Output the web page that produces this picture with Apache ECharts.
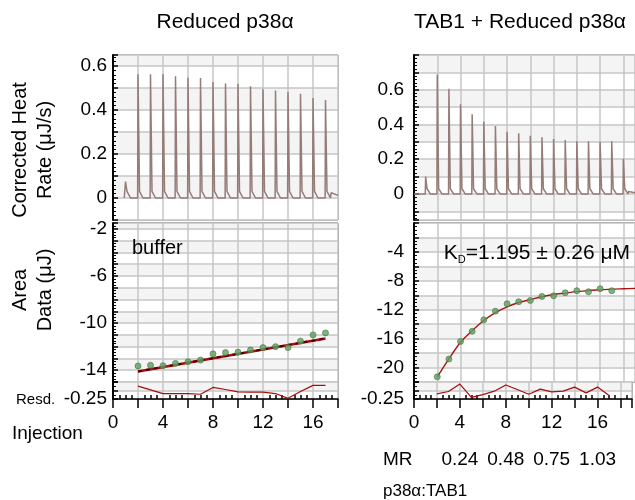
<!DOCTYPE html>
<html>
<head>
<meta charset="utf-8">
<script src="https://cdn.jsdelivr.net/npm/echarts@6/dist/echarts.min.js"></script>
<style>
html, body { margin: 0; padding: 0; background: #fff; }
#main { width: 635px; height: 500px; }
</style>
</head>
<body>
<div id="main"></div>
<script>
// raw thermogram peaks (injection number -> peak height, uJ/s)
var bufInj = [1, 2, 3, 4, 5, 6, 7, 8, 9, 10, 11, 12, 13, 14, 15, 16, 17];
var bufPeak = [0.075, 0.562, 0.562, 0.562, 0.553, 0.547, 0.545, 0.527, 0.521, 0.518, 0.508, 0.494, 0.489, 0.482, 0.474, 0.455, 0.445];
var tabInj = [1, 2, 3, 4, 5, 6, 7, 8, 9, 10, 11, 12, 13, 14, 15, 16, 17, 18];
var tabPeak = [0.10, 0.688, 0.605, 0.517, 0.459, 0.416, 0.391, 0.358, 0.349, 0.335, 0.326, 0.316, 0.310, 0.304, 0.304, 0.300, 0.304, 0.203];

// integrated areas (uJ)
var areaInj = [2, 3, 4, 5, 6, 7, 8, 9, 10, 11, 12, 13, 14, 15, 16, 17];
var bufArea = [-13.64, -13.58, -13.61, -13.42, -13.28, -13.14, -12.61, -12.5, -12.47, -12.28, -12.08, -12.0, -12.08, -11.53, -11.0, -10.83];
var bufResd = [0.13, 0.02, -0.09, -0.09, -0.09, -0.11, 0.09, 0.03, -0.04, -0.05, -0.05, -0.09, -0.23, -0.03, 0.15, 0.15];
var bufFitX = [2, 17];
var bufFitY = [-14.1, -11.3];

var tabArea = [-21.29, -18.83, -16.38, -14.99, -13.40, -12.2, -11.18, -10.9, -10.72, -10.16, -10.07, -9.65, -9.37, -9.51, -9.09, -9.37];
var tabResd = [-0.10, -0.03, 0.19, -0.20, -0.12, -0.02, 0.16, 0.03, -0.11, 0.04, -0.04, -0.02, 0.10, -0.07, 0.10, -0.15];
var tabFitX = [2, 3, 4, 5, 6, 7, 8, 9, 10, 11, 12, 13, 14, 15, 16, 17, 18, 19];
var tabFitY = [-21.3, -18.8, -16.5, -14.9, -13.5, -12.4, -11.6, -11.0, -10.6, -10.2, -9.9, -9.7, -9.5, -9.35, -9.25, -9.15, -9.1, -9.05];

// molar ratio tick labels under the right panel
var mrTicks = [4, 8, 12, 16];
var mrLabels = ['0.24', '0.48', '0.75', '1.03'];

var FONT = 'Liberation Sans';

function zip(xs, ys) {
    return xs.map(function (x, i) { return [x, ys[i]]; });
}

// thermogram trace: baseline with a sharp spike at each injection
function trace(inj, peak, start, end, tail) {
    var pts = [[start, 0]];
    inj.forEach(function (x, i) {
        pts.push([x - 0.03, 0], [x, peak[i]], [x + 0.12, 0.03], [x + 0.4, 0]);
    });
    pts.push([inj[inj.length - 1] + 0.45, tail], [end, tail * 0.5]);
    return pts;
}

function grid(left, top, width, height, border) {
    return {
        left: left, top: top, width: width, height: height,
        show: true, backgroundColor: '#fff', borderColor: border, borderWidth: 1
    };
}

function xAx(gi, max, bottom) {
    return {
        gridIndex: gi, type: 'value', min: 0, max: max, interval: 2,
        axisLine: { show: bottom, onZero: false, lineStyle: { color: '#000', width: 1.5 } },
        axisTick: { show: bottom, length: 9, lineStyle: { color: '#000', width: 1.5 } },
        minorTick: { show: bottom, splitNumber: 4, length: -4, lineStyle: { color: '#000', width: 1.5 } },
        axisLabel: {
            show: bottom, margin: 14, fontSize: 19, fontFamily: FONT, color: '#000',
            formatter: function (v) { return v % 4 === 0 ? String(v) : ''; }
        },
        splitLine: { show: true, lineStyle: { color: '#c6c6c6', width: 1.5 } }
    };
}

function yAx(gi, min, max, opts) {
    return {
        gridIndex: gi, type: 'value', min: min, max: max,
        splitNumber: opts.split, interval: opts.interval,
        axisLine: { show: true, lineStyle: { color: '#000', width: 2 } },
        axisTick: { show: true, inside: true, length: 5, lineStyle: { color: '#000', width: 1.5 } },
        minorTick: { show: true, splitNumber: opts.minor, length: 3, lineStyle: { color: '#000', width: 1 } },
        axisLabel: {
            margin: opts.margin, fontSize: 19, fontFamily: FONT, color: '#000',
            formatter: opts.fmt
        },
        splitLine: { show: true, lineStyle: { color: '#c6c6c6', width: 1.5 } },
        splitArea: { show: true, areaStyle: { color: ['#ffffff', '#f4f4f4'] } }
    };
}

function near(v, step) {
    var r = v / step;
    return Math.abs(r - Math.round(r)) < 1e-6;
}

var myChart = echarts.init(document.getElementById('main'));

var option = {
    animation: false,
    textStyle: { fontFamily: FONT },
    grid: [
        grid(113, 55, 225, 165, '#555'),
        grid(113, 223, 225, 159, '#000'),
        grid(113, 382, 225, 17, '#000'),
        grid(414, 55, 222, 165, '#555'),
        grid(414, 223, 222, 159, '#000'),
        grid(414, 382, 222, 17, '#000')
    ],
    xAxis: [
        xAx(0, 18, false),
        xAx(1, 18, false),
        xAx(2, 18, true),
        xAx(3, 19, false),
        xAx(4, 19, false),
        xAx(5, 19, true),
        {
            gridIndex: 5, type: 'value', min: 0, max: 19, interval: 4,
            position: 'bottom', offset: 37,
            axisLine: { show: false }, axisTick: { show: false },
            splitLine: { show: false },
            axisLabel: {
                margin: 14, fontSize: 19, fontFamily: FONT, color: '#000',
                formatter: function (v) {
                    var i = mrTicks.indexOf(v);
                    return i < 0 ? '' : mrLabels[i];
                }
            }
        }
    ],
    yAxis: [
        yAx(0, -0.1, 0.65, { split: 8, minor: 5, margin: 6,
            fmt: function (v) { return (near(v, 0.2) && v > -0.05 && v < 0.61) ? String(Math.round(v * 10) / 10) : ''; } }),
        yAx(1, -15, -1.5, { split: 13, minor: 4, margin: 6,
            fmt: function (v) { return (near(v + 2, 4) && v >= -14) ? String(v) : ''; } }),
        yAx(2, -0.25, 0.25, { interval: 0.25, minor: 2, margin: 6,
            fmt: function (v) { return v === -0.25 ? '-0.25' : ''; } }),
        yAx(3, -0.15, 0.8, { split: 9, minor: 5, margin: 10,
            fmt: function (v) { return (near(v, 0.2) && v > -0.05 && v < 0.61) ? String(Math.round(v * 10) / 10) : ''; } }),
        yAx(4, -22, 0, { split: 11, minor: 4, margin: 10,
            fmt: function (v) { return (near(v, 4) && v < 0 && v >= -20) ? String(v) : ''; } }),
        yAx(5, -0.25, 0.25, { interval: 0.25, minor: 2, margin: 10,
            fmt: function (v) { return v === -0.25 ? '-0.25' : ''; } })
    ],
    series: [
        {
            type: 'line', xAxisIndex: 0, yAxisIndex: 0, showSymbol: false, silent: true,
            data: trace(bufInj, bufPeak, 0.9, 18, 0.024),
            lineStyle: { color: '#957c77', width: 1.5 }
        },
        {
            type: 'line', xAxisIndex: 3, yAxisIndex: 3, showSymbol: false, silent: true,
            data: trace(tabInj, tabPeak, 0, 19, 0.014),
            lineStyle: { color: '#957c77', width: 1.5 }
        },
        {
            type: 'line', xAxisIndex: 1, yAxisIndex: 1, showSymbol: false, silent: true,
            data: zip(bufFitX, bufFitY),
            lineStyle: { color: '#a80c0c', width: 2.5 }, z: 3
        },
        {
            type: 'line', xAxisIndex: 1, yAxisIndex: 1, showSymbol: false, silent: true,
            data: zip(bufFitX, bufFitY),
            lineStyle: { color: '#500000', width: 2, type: [4, 4] }, z: 4
        },
        {
            type: 'scatter', xAxisIndex: 1, yAxisIndex: 1, symbolSize: 6, silent: true,
            data: zip(areaInj, bufArea),
            itemStyle: { color: '#5f9f5f', borderColor: '#3f7a3f', borderWidth: 0.8 }, z: 5
        },
        {
            type: 'line', xAxisIndex: 2, yAxisIndex: 2, showSymbol: false, silent: true,
            data: zip(areaInj, bufResd),
            lineStyle: { color: '#a80c0c', width: 1.2 }
        },
        {
            type: 'line', xAxisIndex: 4, yAxisIndex: 4, showSymbol: false, silent: true, smooth: 0.3,
            data: zip(tabFitX, tabFitY),
            lineStyle: { color: '#b01010', width: 1.4 }, z: 3
        },
        {
            type: 'scatter', xAxisIndex: 4, yAxisIndex: 4, symbolSize: 6, silent: true,
            data: zip(areaInj, tabArea),
            itemStyle: { color: '#5f9f5f', borderColor: '#3f7a3f', borderWidth: 0.8 }, z: 5
        },
        {
            type: 'line', xAxisIndex: 5, yAxisIndex: 5, showSymbol: false, silent: true,
            data: zip(areaInj, tabResd),
            lineStyle: { color: '#a80c0c', width: 1.2 }
        }
    ],
    graphic: [
        { type: 'text', x: 225, y: 22, style: { text: 'Reduced p38α', font: '21px ' + FONT, fill: '#000', textAlign: 'center', textVerticalAlign: 'middle', align: 'center', verticalAlign: 'middle' } },
        { type: 'text', x: 520, y: 22, style: { text: 'TAB1 + Reduced p38α', font: '21px ' + FONT, fill: '#000', textAlign: 'center', textVerticalAlign: 'middle', align: 'center', verticalAlign: 'middle' } },
        { type: 'text', x: 33, y: 150, rotation: Math.PI / 2, style: { text: 'Corrected Heat\nRate (μJ/s)', font: '20px ' + FONT, lineHeight: 25, fill: '#000', textAlign: 'center', textVerticalAlign: 'middle', align: 'center', verticalAlign: 'middle' } },
        { type: 'text', x: 33, y: 290, rotation: Math.PI / 2, style: { text: 'Area\nData (μJ)', font: '20px ' + FONT, lineHeight: 25, fill: '#000', textAlign: 'center', textVerticalAlign: 'middle', align: 'center', verticalAlign: 'middle' } },
        { type: 'text', x: 16, y: 400, style: { text: 'Resd.', font: '15px ' + FONT, fill: '#000', textVerticalAlign: 'middle', verticalAlign: 'middle' } },
        { type: 'text', x: 12, y: 434, style: { text: 'Injection', font: '19px ' + FONT, fill: '#000', textVerticalAlign: 'middle', verticalAlign: 'middle' } },
        { type: 'text', x: 383, y: 460, style: { text: 'MR', font: '19px ' + FONT, fill: '#000', textVerticalAlign: 'middle', verticalAlign: 'middle' } },
        { type: 'text', x: 383, y: 491, style: { text: 'p38α:TAB1', font: '17px ' + FONT, fill: '#000', textVerticalAlign: 'middle', verticalAlign: 'middle' } },
        { type: 'text', x: 132, y: 248, z: 10, style: { text: 'buffer', font: '20px ' + FONT, fill: '#000', textVerticalAlign: 'middle', verticalAlign: 'middle' } },
        {
            type: 'text', x: 630, y: 253, z: 10,
            style: {
                text: '{k|K}{d|D}{k|=1.195 ± 0.26 μM}',
                textAlign: 'right', align: 'right', textVerticalAlign: 'middle', verticalAlign: 'middle',
                rich: {
                    k: { fontSize: 21, fontFamily: FONT, lineHeight: 24, fill: '#000', color: '#000' },
                    d: { fontSize: 11, fontFamily: FONT, lineHeight: 8, verticalAlign: 'bottom', fill: '#000', color: '#000' }
                }
            }
        }
    ]
};

myChart.setOption(option);
</script>
</body>
</html>
